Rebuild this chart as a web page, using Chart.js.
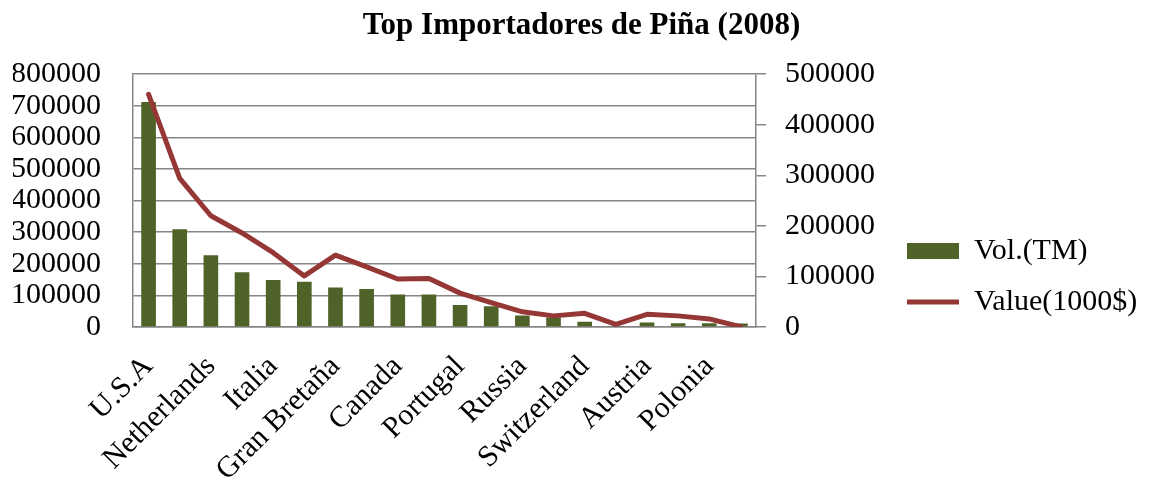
<!DOCTYPE html>
<html lang="es">
<head>
    <meta charset="UTF-8">
    <title>Top Importadores de Piña (2008)</title>
    <script src="https://cdn.jsdelivr.net/npm/chart.js"></script>
    <style>
        body { margin: 0; background: #fff; }
        #wrap { width: 1152px; height: 484px; }
    </style>
</head>
<body>
    <div id="wrap">
        <canvas id="chart" width="1152" height="484"></canvas>
    </div>

    <script>
        // only every other country is labelled on the original axis
        const countries = ['U.S.A', '', 'Netherlands', '', 'Italia', '', 'Gran Bretaña', '', 'Canada', '',
                           'Portugal', '', 'Russia', '', 'Switzerland', '', 'Austria', '', 'Polonia', ''];
        const volumeTM = [712000, 309000, 227000, 173000, 149000, 143000, 125000, 120000, 103000, 103000,
                          70000, 66000, 36000, 30000, 17000, 3000, 14000, 12000, 12000, 11000];
        const value1000 = [460000, 294000, 220000, 186000, 147000, 101000, 142000, 119000, 95000, 96000,
                           67000, 48000, 30000, 22000, 27000, 5000, 25000, 22000, 16000, 500];
        const leftAxisMax = 800000;
        const rightAxisMax = 500000;
        const tickStep = 100000;

        const serif = 'Liberation Serif';
        const gridGrey = '#868686';
        const legendWidth = 264;

        const ctx = document.getElementById('chart').getContext('2d');
        const chart = new Chart(ctx, {
            type: 'bar',
            data: {
                labels: countries,
                datasets: [{
                    label: 'Vol.(TM)',
                    data: volumeTM,
                    backgroundColor: '#4F6228',
                    borderWidth: 0,
                    pointStyle: 'rect',
                    barPercentage: 0.47,
                    categoryPercentage: 1,
                    yAxisID: 'y',
                    order: 1
                }, {
                    type: 'line',
                    label: 'Value(1000$)',
                    data: value1000,
                    borderColor: '#953735',
                    backgroundColor: '#953735',
                    borderWidth: 5,
                    borderCapStyle: 'round',
                    borderJoinStyle: 'round',
                    pointRadius: 0,
                    pointStyle: 'line',
                    pointBorderColor: '#953735',
                    pointBorderWidth: 5,
                    tension: 0,
                    yAxisID: 'y1',
                    order: 0
                }]
            },
            options: {
                responsive: false,
                animation: false,
                layout: { padding: { left: 13, right: 2, top: 0, bottom: 0 } },
                plugins: {
                    title: {
                        display: true,
                        text: 'Top Importadores de Piña (2008)',
                        color: '#000',
                        font: { family: serif, size: 31, weight: 'bold' },
                        padding: { top: 7, bottom: 30 }
                    },
                    legend: {
                        position: 'right',
                        // empty title only pushes the two items down to mid-height
                        title: {
                            display: true,
                            text: '',
                            font: { family: serif, size: 30 },
                            padding: { top: 0, bottom: 33 }
                        },
                        labels: {
                            color: '#000',
                            font: { family: serif, size: 30 },
                            usePointStyle: true,
                            pointStyleWidth: 52,
                            boxHeight: 16,
                            padding: 21,
                            sort: (a, b) => a.datasetIndex - b.datasetIndex
                        }
                    },
                    tooltip: { enabled: false }
                },
                scales: {
                    x: {
                        grid: { display: false },
                        border: { display: true, color: gridGrey, width: 1.5 },
                        ticks: {
                            autoSkip: false,
                            minRotation: 45,
                            maxRotation: 45,
                            padding: 14,
                            color: '#000',
                            font: { family: serif, size: 30 }
                        },
                        afterFit: (scale) => {
                            scale.height = 157;
                            scale.paddingLeft = 0;
                            scale.paddingRight = 0;
                        }
                    },
                    y: {
                        position: 'left',
                        min: 0,
                        max: leftAxisMax,
                        grid: { color: gridGrey, lineWidth: 1.5, drawTicks: false },
                        border: { display: true, color: gridGrey, width: 1.5 },
                        ticks: {
                            stepSize: tickStep,
                            autoSkip: false,
                            padding: 32,
                            color: '#000',
                            font: { family: serif, size: 30 },
                            callback: (v) => String(v)
                        },
                        afterFit: (scale) => { scale.width = 120; }
                    },
                    y1: {
                        position: 'right',
                        min: 0,
                        max: rightAxisMax,
                        grid: { drawOnChartArea: false, color: gridGrey, lineWidth: 1.5, tickLength: 10 },
                        border: { display: true, color: gridGrey, width: 1.5 },
                        ticks: {
                            stepSize: tickStep,
                            autoSkip: false,
                            padding: 19,
                            color: '#000',
                            font: { family: serif, size: 30 },
                            callback: (v) => String(v)
                        },
                        afterFit: (scale) => { scale.width = 130; }
                    }
                }
            }
        });

        // the layout caps side boxes at a sixth of the width, too narrow for these labels
        const fitLegend = chart.legend.fit;
        chart.legend.fit = function () {
            fitLegend.call(this);
            this.width = legendWidth;
        };
        chart.update();
    </script>
</body>
</html>
